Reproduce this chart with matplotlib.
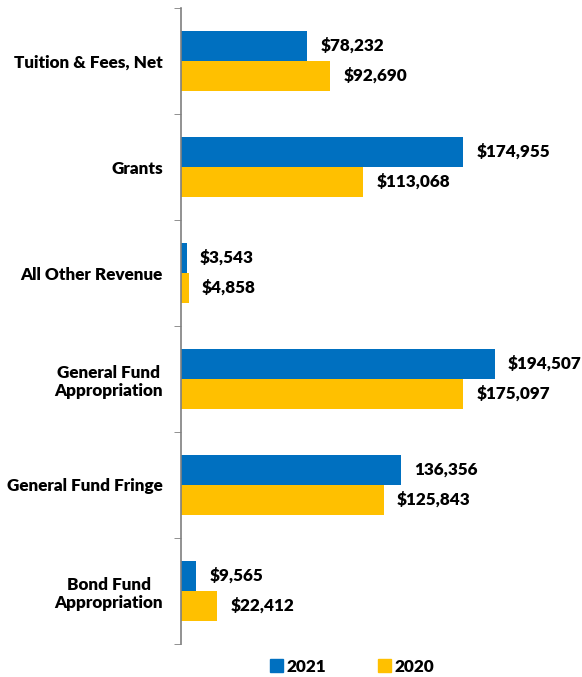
import numpy as np
import matplotlib.pyplot as plt
from matplotlib.patches import Patch

categories = ['Tuition & Fees, Net', 'Grants', 'All Other Revenue',
              'General Fund\nAppropriation', 'General Fund Fringe',
              'Bond Fund\nAppropriation']
vals_2021 = [78232, 174955, 3543, 194507, 136356, 9565]
vals_2020 = [92690, 113068, 4858, 175097, 125843, 22412]
labels_2021 = ['$78,232', '$174,955', '$3,543', '$194,507', '136,356', '$9,565']
labels_2020 = ['$92,690', '$113,068', '$4,858', '$175,097', '$125,843', '$22,412']

blue = '#0070C0'
yellow = '#FFC000'

plt.rcParams['font.family'] = ['Lato', 'DejaVu Sans']

fig = plt.figure(figsize=(5.82, 6.77), dpi=100)
ax = fig.add_axes([181/582, 33/677, 387/582, 636/677])

y = np.arange(len(categories))
h = 0.283
ax.barh(y - h/2, vals_2021, height=h, color=blue)
ax.barh(y + h/2, vals_2020, height=h, color=yellow)

fs = 12.3
for i in range(len(categories)):
    ax.annotate(labels_2021[i], (vals_2021[i], y[i] - h/2), xytext=(9.5, 0),
                textcoords='offset points', va='center', ha='left',
                fontsize=fs, fontweight='heavy')
    ax.annotate(labels_2020[i], (vals_2020[i], y[i] + h/2), xytext=(9.5, 0),
                textcoords='offset points', va='center', ha='left',
                fontsize=fs, fontweight='heavy')

ax.set_xlim(0, 240000)
ax.set_ylim(5.5, -0.5)
ax.set_yticks(y)
ax.set_yticklabels(categories, fontsize=fs, fontweight='heavy', multialignment='center')
ax.set_yticks(np.arange(-0.5, 6, 1), minor=True)
ax.tick_params(axis='y', which='major', length=0, pad=13)
ax.tick_params(axis='y', which='minor', length=5, color='#7f7f7f')
ax.set_xticks([])
for s in ['top', 'right', 'bottom']:
    ax.spines[s].set_visible(False)
ax.spines['left'].set_color('#7f7f7f')
ax.spines['left'].set_linewidth(1.2)

handles = [Patch(color=blue, label='2021'), Patch(color=yellow, label='2020')]
fig.legend(handles=handles, loc='center', bbox_to_anchor=(0.605, 0.015), ncol=2,
           frameon=False, prop={'size': fs, 'weight': 'heavy'}, handlelength=0.8,
           handleheight=0.8, handletextpad=0.2, columnspacing=3.0)

fig.savefig('out.png', dpi=100)
